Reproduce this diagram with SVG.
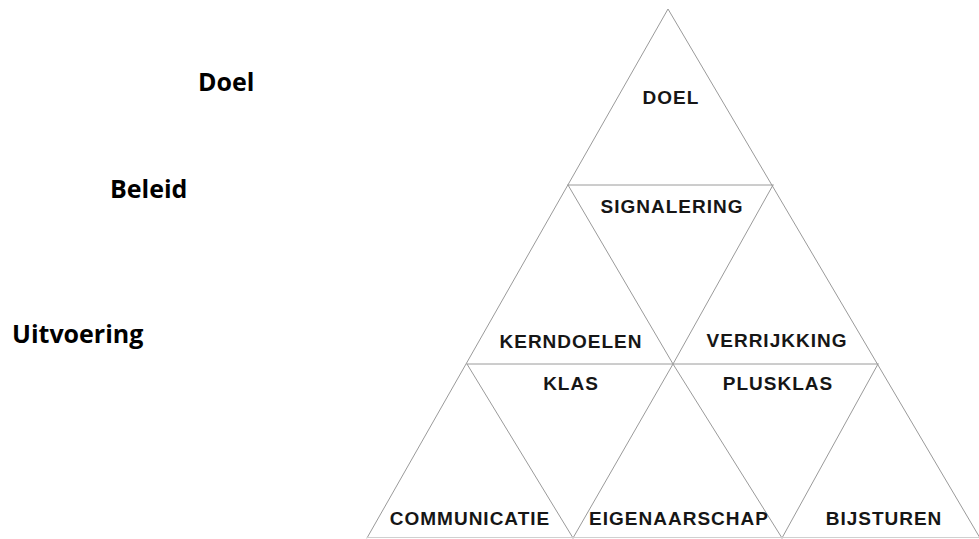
<svg xmlns="http://www.w3.org/2000/svg" width="979" height="539" viewBox="0 0 979 539">
<style>
.ln{fill:none;stroke:#9a9a9a;stroke-width:1;stroke-linecap:round;stroke-linejoin:round}
.faint{fill:none;stroke:#d0d0d0;stroke-width:1}
.tl{font-family:"Liberation Sans",Arial,sans-serif;font-weight:bold;font-size:19px;letter-spacing:1px;fill:#161616;text-anchor:middle}
.side{font-family:"Open Sans","Liberation Sans",sans-serif;font-weight:bold;font-size:25px;fill:#000}
</style>
<rect width="979" height="539" fill="#fff"/>
<g id="side-labels">
<text class="side" x="198" y="91">Doel</text>
<text class="side" x="110" y="198">Beleid</text>
<text class="side" x="12" y="343">Uitvoering</text>
</g>
<g id="connectors">
<polyline class="ln" points="367,538 668,9 980,538"/>
<line class="ln" x1="568" y1="185" x2="773" y2="185"/>
<line class="ln" x1="467" y1="364" x2="878" y2="364"/>
<polyline class="ln" points="568,185 673,364 782,538"/>
<polyline class="ln" points="773,185 673,364 573,538"/>
<line class="ln" x1="467" y1="364" x2="573" y2="538"/>
<line class="ln" x1="878" y1="364" x2="782" y2="538"/>
<line class="faint" x1="367" y1="537.5" x2="980" y2="537.5"/>
</g>
<g id="doel"><text class="tl" x="671" y="104">DOEL</text></g>
<g id="signalering"><text class="tl" x="672" y="213">SIGNALERING</text></g>
<g id="kerndoelen"><text class="tl" x="571" y="348">KERNDOELEN</text></g>
<g id="verrijkking"><text class="tl" x="777" y="347">VERRIJKKING</text></g>
<g id="klas"><text class="tl" x="571" y="390">KLAS</text></g>
<g id="plusklas"><text class="tl" x="778" y="390">PLUSKLAS</text></g>
<g id="communicatie"><text class="tl" x="470" y="525">COMMUNICATIE</text></g>
<g id="eigenaarschap"><text class="tl" x="679" y="525">EIGENAARSCHAP</text></g>
<g id="bijsturen"><text class="tl" x="884" y="525">BIJSTUREN</text></g>
</svg>
